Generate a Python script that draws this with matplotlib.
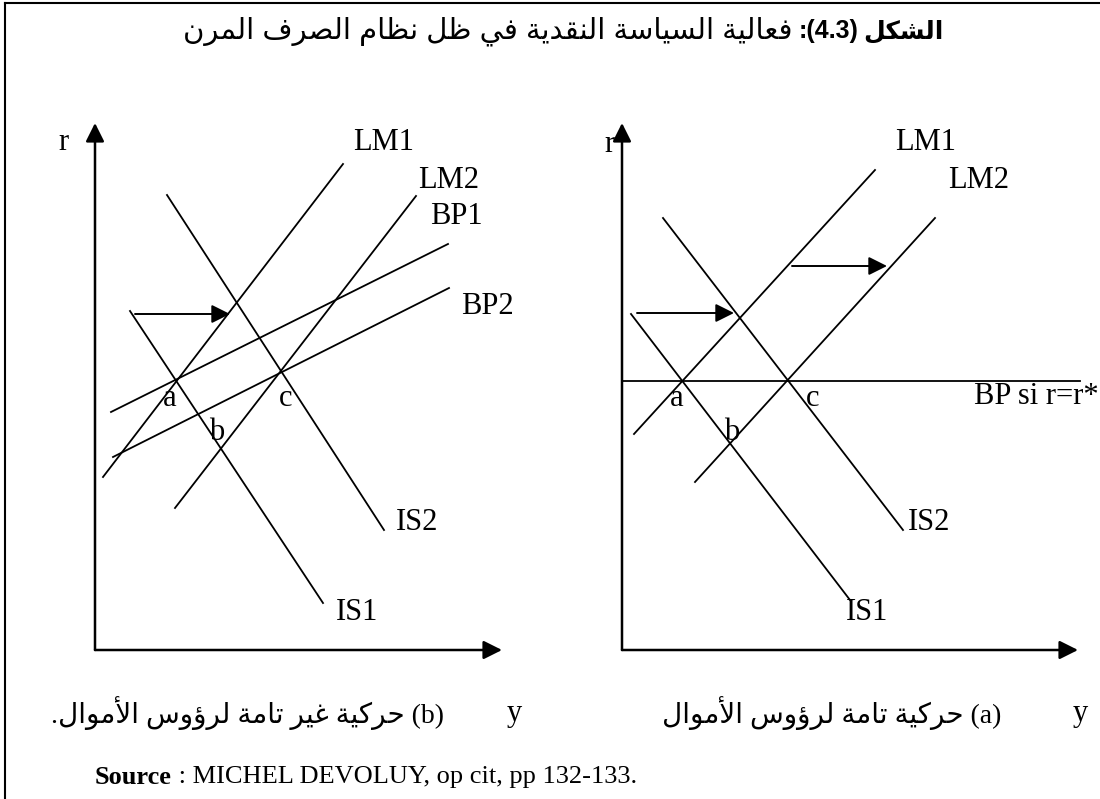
import matplotlib.pyplot as plt
from matplotlib.lines import Line2D

W, H = 1100, 799

# ---- diagram data: each panel uses (y, r) units, origin at the axes corner ----
left_names = ["LM1", "LM2", "BP1", "BP2", "IS1", "IS2"]
left_y0 = [8, 80, 16, 18, 35, 72]
left_r0 = [173, 142, 238, 193, 339, 455]
left_y1 = [248, 321, 353, 354, 228, 289]
left_r1 = [486, 454, 406, 362, 47, 120]
left_shift_y0 = [40]
left_shift_y1 = [135]
left_shift_r = [336]

right_names = ["LM1", "LM2", "IS1", "IS2", "BP si r=r*"]
right_y0 = [12, 73, 9, 41, 0]
right_r0 = [216, 168, 336, 432, 269]
right_y1 = [253, 313, 228, 281, 458]
right_r1 = [480, 432, 50, 120, 269]
right_shift_y0 = [15, 170]
right_shift_y1 = [112, 265]
right_shift_r = [337, 384]

points = ["a", "b", "c"]

title_word = "الشكل"
title_num = ":(4.3)"
title_rest = "فعالية السياسة النقدية في ظل نظام الصرف المرن"
caption_a = "حركية تامة لرؤوس الأموال"
caption_b = "حركية غير تامة لرؤوس الأموال."
source_txt = "MICHEL DEVOLUY, op cit, pp 132-133."


# ---- minimal Arabic shaping (no reshaper lib available) ----
FORMS = {
    "ا": ("\uFE8D", "\uFE8E", None, None),
    "أ": ("\uFE83", "\uFE84", None, None),
    "ب": ("\uFE8F", "\uFE90", "\uFE91", "\uFE92"),
    "ة": ("\uFE93", "\uFE94", None, None),
    "ت": ("\uFE95", "\uFE96", "\uFE97", "\uFE98"),
    "ح": ("\uFEA1", "\uFEA2", "\uFEA3", "\uFEA4"),
    "د": ("\uFEA9", "\uFEAA", None, None),
    "ر": ("\uFEAD", "\uFEAE", None, None),
    "س": ("\uFEB1", "\uFEB2", "\uFEB3", "\uFEB4"),
    "ش": ("\uFEB5", "\uFEB6", "\uFEB7", "\uFEB8"),
    "ص": ("\uFEB9", "\uFEBA", "\uFEBB", "\uFEBC"),
    "ظ": ("\uFEC5", "\uFEC6", "\uFEC7", "\uFEC8"),
    "ع": ("\uFEC9", "\uFECA", "\uFECB", "\uFECC"),
    "غ": ("\uFECD", "\uFECE", "\uFECF", "\uFED0"),
    "ف": ("\uFED1", "\uFED2", "\uFED3", "\uFED4"),
    "ق": ("\uFED5", "\uFED6", "\uFED7", "\uFED8"),
    "ك": ("\uFED9", "\uFEDA", "\uFEDB", "\uFEDC"),
    "ل": ("\uFEDD", "\uFEDE", "\uFEDF", "\uFEE0"),
    "م": ("\uFEE1", "\uFEE2", "\uFEE3", "\uFEE4"),
    "ن": ("\uFEE5", "\uFEE6", "\uFEE7", "\uFEE8"),
    "و": ("\uFEED", "\uFEEE", None, None),
    "ؤ": ("\uFE85", "\uFE86", None, None),
    "ي": ("\uFEF1", "\uFEF2", "\uFEF3", "\uFEF4"),
}
LAM_ALEF = {"ا": ("\uFEFB", "\uFEFC"), "أ": ("\uFEF7", "\uFEF8")}


def shape(text):
    out = []
    join_prev = False
    i = 0
    while i < len(text):
        c = text[i]
        if c not in FORMS:
            out.append(c)
            join_prev = False
            i += 1
            continue
        if c == "ل" and i + 1 < len(text) and text[i + 1] in LAM_ALEF:
            iso, fin = LAM_ALEF[text[i + 1]]
            out.append(fin if join_prev else iso)
            join_prev = False
            i += 2
            continue
        dual = FORMS[c][2] is not None
        join_next = dual and i + 1 < len(text) and text[i + 1] in FORMS
        iso, fin, ini, med = FORMS[c]
        if join_prev and join_next:
            out.append(med)
        elif join_prev:
            out.append(fin)
        elif join_next:
            out.append(ini)
        else:
            out.append(iso)
        join_prev = join_next
        i += 1
    return "".join(reversed(out))


SERIF = ["Liberation Serif", "DejaVu Sans"]
SANS = ["Liberation Sans", "DejaVu Sans"]

fig = plt.figure(figsize=(W / 100, H / 100), dpi=100)
fig.patch.set_facecolor("white")
renderer = fig.canvas.get_renderer()


def px_text(x, y, s, **kw):
    return fig.text(x / W, 1 - y / H, s, **kw)


def width_px(t):
    return t.get_window_extent(renderer).width


def panel(ox, oy, w, h):
    ax = fig.add_axes([ox / W, (H - oy) / H, w / W, h / H])
    ax.set_xlim(0, w)
    ax.set_ylim(0, h)
    ax.axis("off")
    return ax


def draw_axes(ax, y_end, r_end):
    kw = dict(arrowstyle="-|>,head_length=0.8,head_width=0.4", color="black",
              lw=1.8, mutation_scale=14, shrinkA=0, shrinkB=0)
    ax.annotate("", xy=(0, r_end), xytext=(0, 0), arrowprops=kw, annotation_clip=False)
    ax.annotate("", xy=(y_end, 0), xytext=(0, 0), arrowprops=kw, annotation_clip=False)


def draw_shifts(ax, y0s, y1s, rs):
    kw = dict(arrowstyle="-|>,head_length=0.8,head_width=0.4", color="black",
              lw=1.4, mutation_scale=14, shrinkA=0, shrinkB=0)
    for y0, y1, r in zip(y0s, y1s, rs):
        ax.annotate("", xy=(y1, r), xytext=(y0, r), arrowprops=kw, annotation_clip=False)


lab = dict(family=SERIF, fontsize=22, color="black", ha="center", va="center")

# ---- left panel: imperfect capital mobility ----
axL = panel(95, 650, 470, 560)
draw_axes(axL, 407, 527)
for y0, r0, y1, r1 in zip(left_y0, left_r0, left_y1, left_r1):
    axL.plot([y0, y1], [r0, r1], color="black", lw=1.3, clip_on=False)
draw_shifts(axL, left_shift_y0, left_shift_y1, left_shift_r)
axL.text(-32, 507, "r", **lab)
axL.text(289, 508, left_names[0], **lab)
axL.text(354, 470, left_names[1], **lab)
axL.text(361, 433, left_names[2], **lab)
axL.text(392, 343, left_names[3], **lab)
axL.text(262, 38, left_names[4], **lab)
axL.text(322, 127, left_names[5], **lab)
axL.text(75, 252, points[0], **lab)
axL.text(122, 217, points[1], **lab)
axL.text(191, 252, points[2], **lab)
axL.text(419, -63, "y", **lab)

# ---- right panel: perfect capital mobility ----
axR = panel(622, 650, 470, 560)
draw_axes(axR, 456, 527)
for y0, r0, y1, r1 in zip(right_y0, right_r0, right_y1, right_r1):
    axR.plot([y0, y1], [r0, r1], color="black", lw=1.3, clip_on=False)
draw_shifts(axR, right_shift_y0, right_shift_y1, right_shift_r)
axR.text(-13, 505, "r", **lab)
axR.text(304, 507, right_names[0], **lab)
axR.text(357, 470, right_names[1], **lab)
axR.text(245, 38, right_names[2], **lab)
axR.text(307, 128, right_names[3], **lab)
axR.text(352, 253, right_names[4], **dict(lab, ha="left"))
axR.text(55, 252, points[0], **lab)
axR.text(110, 217, points[1], **lab)
axR.text(191, 252, points[2], **lab)
axR.text(458, -63, "y", **lab)

# ---- title (right-to-left pieces, bold label first) ----
x = 944
t = px_text(x, 31, shape(title_word), ha="right", va="center",
            family=SANS, fontsize=18, fontweight="bold")
x -= width_px(t) + 5
t = px_text(x, 31, title_num, ha="right", va="center",
            family=SANS, fontsize=18, fontweight="bold")
x -= width_px(t) + 6
px_text(x, 31, shape(title_rest), ha="right", va="center",
        family=SANS, fontsize=21)

# ---- panel captions ----
px_text(444, 713, shape(caption_b) + " (b)", ha="right", va="center",
        family=SERIF, fontsize=20)
px_text(1001, 713, shape(caption_a) + " (a)", ha="right", va="center",
        family=SERIF, fontsize=20)

# ---- source line ----
t = px_text(95, 777, "Source", ha="left", va="center",
            family=SERIF, fontsize=19, fontweight="bold")
px_text(95 + width_px(t), 777, " : " + source_txt, ha="left", va="center",
        family=SERIF, fontsize=19)

# page frame (left and top rules)
fig.add_artist(Line2D([5 / W, 5 / W], [0, 1 - 3 / H], color="black", lw=1.5))
fig.add_artist(Line2D([5 / W, 1], [1 - 3 / H, 1 - 3 / H], color="black", lw=1.5))

fig.savefig("out.png", dpi=100)
